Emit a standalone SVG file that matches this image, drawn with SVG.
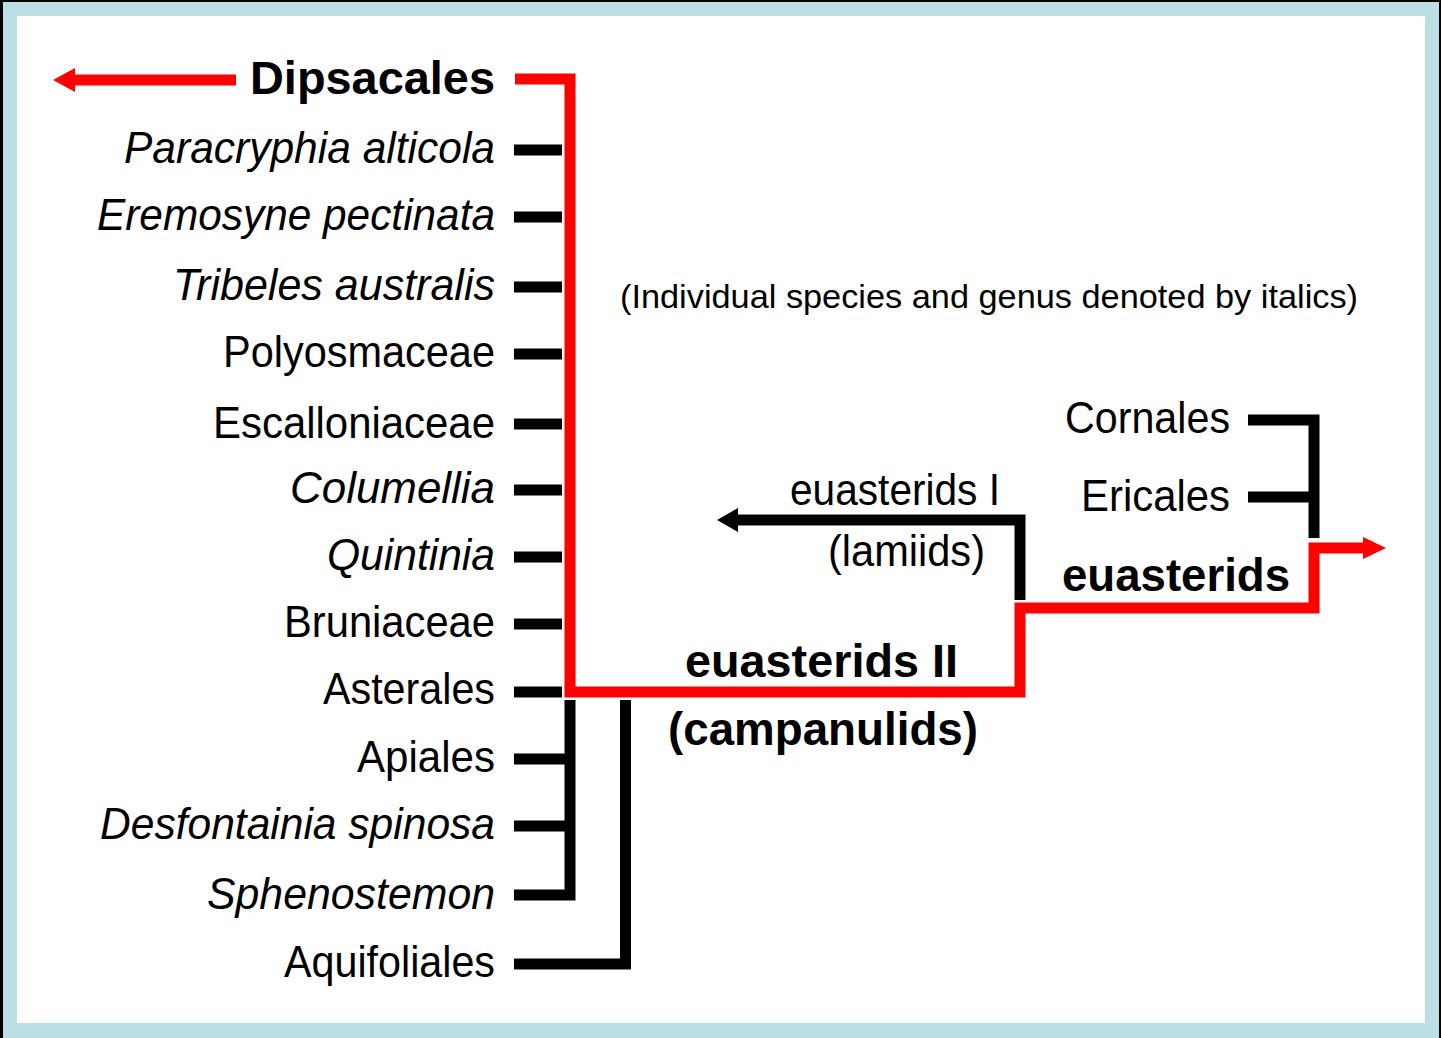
<svg xmlns="http://www.w3.org/2000/svg" width="1441" height="1038" viewBox="0 0 1441 1038">
<style>
.lbl{font-family:"Liberation Sans",Arial,sans-serif;font-size:45px;fill:#000;text-anchor:end}
.it{font-style:italic}
.bold{font-family:"Liberation Sans",Arial,sans-serif;font-size:46px;font-weight:bold;fill:#000}
.note{font-family:"Liberation Sans",Arial,sans-serif;font-size:33px;fill:#000}
.blk{fill:none;stroke:#000;stroke-width:11;stroke-linejoin:miter;stroke-linecap:butt}
.red{fill:none;stroke:#ff0000;stroke-width:11;stroke-linejoin:miter;stroke-linecap:butt}
</style>
<rect x="0" y="0" width="1441" height="1038" fill="#000"/>
<rect x="3" y="2" width="1436" height="1036" fill="#bbdfe2"/>
<rect x="17" y="16" width="1408" height="1007" fill="#fff"/>

<g id="connectors">
<path class="red" d="M236,80 H70"/>
<polygon points="53,80 75,68 75,92" fill="#ff0000"/>
<path class="red" d="M515,79 H570 V692 H1020 V608 H1314 V548 H1366"/>
<polygon points="1386,548 1363,537 1363,559" fill="#ff0000"/>
<path class="blk" d="M514,150 H562 M514,217 H562 M514,287 H562 M514,354 H562 M514,424 H562 M514,490 H562 M514,557 H562 M514,624 H562 M514,692 H562"/>
<path class="blk" d="M514,759 H570 M514,826 H570 M514,895 H570 V700"/>
<path class="blk" d="M514,964 H625.5 V700"/>
<path class="blk" d="M1020,600 V520 H735"/>
<polygon points="717,520 738,508 738,532" fill="#000"/>
<path class="blk" d="M1248,420 H1314 V538 M1248,497 H1314"/>
</g>

<g id="node-dipsacales"><text class="bold" x="495" y="94" text-anchor="end" textLength="245" lengthAdjust="spacingAndGlyphs">Dipsacales</text></g>
<g id="node-paracryphia"><text class="lbl it" x="495" y="163" textLength="371" lengthAdjust="spacingAndGlyphs">Paracryphia alticola</text></g>
<g id="node-eremosyne"><text class="lbl it" x="495" y="230" textLength="398" lengthAdjust="spacingAndGlyphs">Eremosyne pectinata</text></g>
<g id="node-tribeles"><text class="lbl it" x="495" y="300" textLength="322" lengthAdjust="spacingAndGlyphs">Tribeles australis</text></g>
<g id="node-polyosmaceae"><text class="lbl" x="495" y="367" textLength="272" lengthAdjust="spacingAndGlyphs">Polyosmaceae</text></g>
<g id="node-escalloniaceae"><text class="lbl" x="495" y="438" textLength="282" lengthAdjust="spacingAndGlyphs">Escalloniaceae</text></g>
<g id="node-columellia"><text class="lbl it" x="495" y="503" textLength="205" lengthAdjust="spacingAndGlyphs">Columellia</text></g>
<g id="node-quintinia"><text class="lbl it" x="495" y="570" textLength="168" lengthAdjust="spacingAndGlyphs">Quintinia</text></g>
<g id="node-bruniaceae"><text class="lbl" x="495" y="637" textLength="211" lengthAdjust="spacingAndGlyphs">Bruniaceae</text></g>
<g id="node-asterales"><text class="lbl" x="495" y="704" textLength="172" lengthAdjust="spacingAndGlyphs">Asterales</text></g>
<g id="node-apiales"><text class="lbl" x="495" y="772" textLength="138" lengthAdjust="spacingAndGlyphs">Apiales</text></g>
<g id="node-desfontainia"><text class="lbl it" x="495" y="839" textLength="395" lengthAdjust="spacingAndGlyphs">Desfontainia spinosa</text></g>
<g id="node-sphenostemon"><text class="lbl it" x="495" y="909" textLength="288" lengthAdjust="spacingAndGlyphs">Sphenostemon</text></g>
<g id="node-aquifoliales"><text class="lbl" x="495" y="977" textLength="211" lengthAdjust="spacingAndGlyphs">Aquifoliales</text></g>

<g id="note"><text class="note" x="620" y="308" textLength="738" lengthAdjust="spacingAndGlyphs">(Individual species and genus denoted by italics)</text></g>

<g id="node-cornales"><text class="lbl" x="1230" y="433" textLength="165" lengthAdjust="spacingAndGlyphs">Cornales</text></g>
<g id="node-ericales"><text class="lbl" x="1230" y="511" textLength="149" lengthAdjust="spacingAndGlyphs">Ericales</text></g>
<g id="node-euasteridsI"><text class="lbl" x="1000" y="505" textLength="210" lengthAdjust="spacingAndGlyphs">euasterids I</text>
<text class="lbl" x="985" y="566" textLength="157" lengthAdjust="spacingAndGlyphs">(lamiids)</text></g>
<g id="node-euasterids"><text class="bold" x="1062" y="591" textLength="228" lengthAdjust="spacingAndGlyphs">euasterids</text></g>
<g id="node-euasteridsII"><text class="bold" x="685" y="677" textLength="273" lengthAdjust="spacingAndGlyphs">euasterids II</text>
<text class="bold" x="668" y="745" textLength="310" lengthAdjust="spacingAndGlyphs">(campanulids)</text></g>
</svg>
